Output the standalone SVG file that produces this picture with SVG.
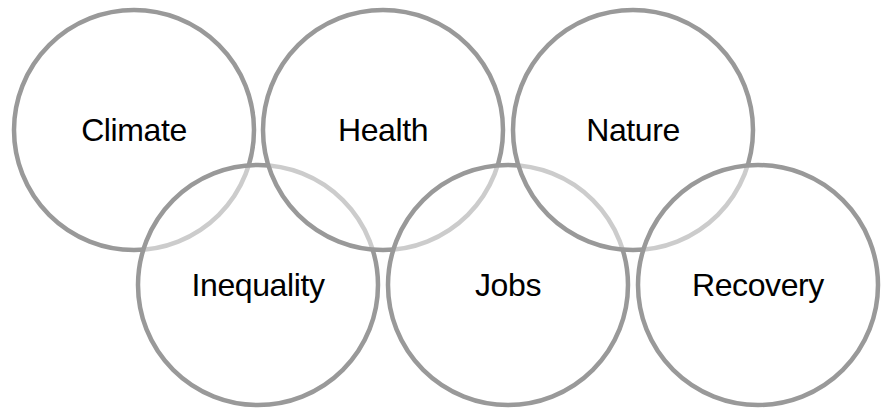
<svg xmlns="http://www.w3.org/2000/svg" width="881" height="410" viewBox="0 0 881 410">
<style>
.ring{fill:#fff;fill-opacity:0.5;stroke:#999;stroke-width:4.5}
.lbl{font-family:"Liberation Sans",Arial,sans-serif;font-size:32px;letter-spacing:-0.4px;fill:#000;text-anchor:middle}
</style>
<rect width="881" height="410" fill="#fff"/>
<g id="climate"><circle class="ring" cx="134" cy="130" r="120"/><text class="lbl" x="134" y="141">Climate</text></g>
<g id="inequality"><circle class="ring" cx="258" cy="285" r="120"/><text class="lbl" x="258" y="296">Inequality</text></g>
<g id="health"><circle class="ring" cx="383" cy="130" r="120"/><text class="lbl" x="383" y="141">Health</text></g>
<g id="jobs"><circle class="ring" cx="508" cy="285" r="120"/><text class="lbl" x="508" y="296">Jobs</text></g>
<g id="nature"><circle class="ring" cx="633" cy="130" r="120"/><text class="lbl" x="633" y="141">Nature</text></g>
<g id="recovery"><circle class="ring" cx="758" cy="285" r="120"/><text class="lbl" x="758" y="296">Recovery</text></g>
<g id="connectors"/>
</svg>
